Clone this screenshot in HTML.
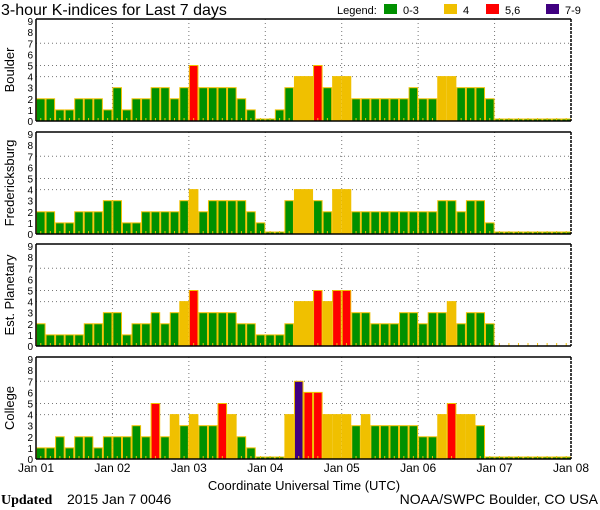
<!DOCTYPE html>
<html><head><meta charset="utf-8"><style>
html,body{margin:0;padding:0;background:#fff;}
svg{display:block;font-family:"Liberation Sans",sans-serif;}
</style></head><body>
<svg id="c" width="600" height="510" xmlns="http://www.w3.org/2000/svg">
<text x="1" y="15" font-size="16">3-hour K-indices for Last 7 days</text>
<text x="337" y="14" font-size="11">Legend:</text>
<rect x="384" y="4" width="13" height="10" fill="#009000"/><text x="403" y="14" font-size="11">0-3</text>
<rect x="444" y="4" width="13" height="10" fill="#f0c000"/><text x="463" y="14" font-size="11">4</text>
<rect x="486" y="4" width="13" height="10" fill="#ff0000"/><text x="505" y="14" font-size="11">5,6</text>
<rect x="546" y="4" width="13" height="10" fill="#400080"/><text x="565" y="14" font-size="11">7-9</text>
<text x="304" y="490" font-size="13" text-anchor="middle">Coordinate Universal Time (UTC)</text>
<text x="1" y="504" font-size="14" font-family="Liberation Serif" font-weight="bold">Updated</text>
<text x="67" y="504" font-size="14">2015 Jan  7 0046</text>
<text x="598" y="504" font-size="14" text-anchor="end">NOAA/SWPC Boulder, CO USA</text>
<g id="g"></g>
</svg>
<script>
var D={
"Boulder":[2,2,1,1,2,2,2,1, 3,1,2,2,3,3,2,3, 5,3,3,3,3,2,1,0, 0,1,3,4,4,5,3,4, 4,2,2,2,2,2,2,3, 2,2,4,4,3,3,3,2, 0,0,0,0,0,0,0,0],
"Fredericksburg":[2,2,1,1,2,2,2,3, 3,1,1,2,2,2,2,3, 4,2,3,3,3,3,2,1, 0,0,3,4,4,3,2,4, 4,2,2,2,2,2,2,2, 2,2,3,3,2,3,3,1, 0,0,0,0,0,0,0,0],
"Est. Planetary":[2,1,1,1,1,2,2,3, 3,1,2,2,3,2,3,4, 5,3,3,3,3,2,2,1, 1,1,2,4,4,5,4,5, 5,3,3,2,2,2,3,3, 2,3,3,4,2,3,3,2, -1,-1,-1,-1,-1,-1,-1,-1],
"College":[1,1,2,1,2,2,1,2, 2,2,3,2,5,2,4,3, 4,3,3,5,4,2,1,0, 0,0,4,7,6,6,4,4, 4,3,4,3,3,3,3,3, 2,2,4,5,4,4,3,0, 0,0,0,0,0,0,0,0]};
var tops=[19,132,244,357],H=102,x0=36,W=535,bw=W/56,u=11.1,s='';
var names=Object.keys(D);
function col(v){return v<=3?'#009000':v==4?'#f0c000':v<=6?'#ff0000':'#400080';}
names.forEach(function(n,i){
 var t=tops[i],b=t+H;
 // grid
 [4,5,7].forEach(function(k){var y=b-k*u;s+='<line x1="'+x0+'" x2="'+(x0+W)+'" y1="'+y+'" y2="'+y+'" stroke="#777" stroke-dasharray="1,3"/>';});
 for(var d=1;d<7;d++){var x=x0+d*W/7;s+='<line x1="'+x+'" x2="'+x+'" y1="'+t+'" y2="'+b+'" stroke="#777" stroke-dasharray="1,3"/>';}
 D[n].forEach(function(v,j){
  var x=x0+j*bw;
  if(v>=0){var h=v==0?2:v*u;s+='<rect x="'+(x+0.5)+'" y="'+(b-h)+'" width="'+(bw-1)+'" height="'+h+'" fill="'+col(v)+'" stroke="#f0c000" stroke-width="1"/>';}
  s+='<line x1="'+(x+bw/2)+'" x2="'+(x+bw/2)+'" y1="'+(b-3)+'" y2="'+b+'" stroke="#f0c000"/>';
 });
 s+='<line x1="'+x0+'" x2="'+(x0+W)+'" y1="'+t+'" y2="'+t+'" stroke="#000" stroke-width="1.5"/>';
 s+='<line x1="'+x0+'" x2="'+(x0+W)+'" y1="'+b+'" y2="'+b+'" stroke="#000" stroke-width="1.5"/>';
 s+='<line x1="'+x0+'" x2="'+x0+'" y1="'+t+'" y2="'+b+'" stroke="#000" stroke-width="1.5"/>';
 s+='<line x1="'+(x0+W)+'" x2="'+(x0+W)+'" y1="'+t+'" y2="'+b+'" stroke="#000" stroke-width="1.5" stroke-dasharray="3,1"/>';
 for(var k=0;k<=9;k++){s+='<text x="33" y="'+(b-k*u+4)+'" font-size="10" text-anchor="end">'+k+'</text>';}
 var cy=t+H/2;
 s+='<text transform="translate(14,'+cy+') rotate(-90)" font-size="13" text-anchor="middle">'+n+'</text>';
});
var lab=['Jan 01','Jan 02','Jan 03','Jan 04','Jan 05','Jan 06','Jan 07','Jan 08'];
lab.forEach(function(l,d){s+='<text x="'+(x0+d*W/7)+'" y="472" font-size="12" text-anchor="middle">'+l+'</text>';});
document.getElementById('g').innerHTML=s;
</script>
</body></html>
